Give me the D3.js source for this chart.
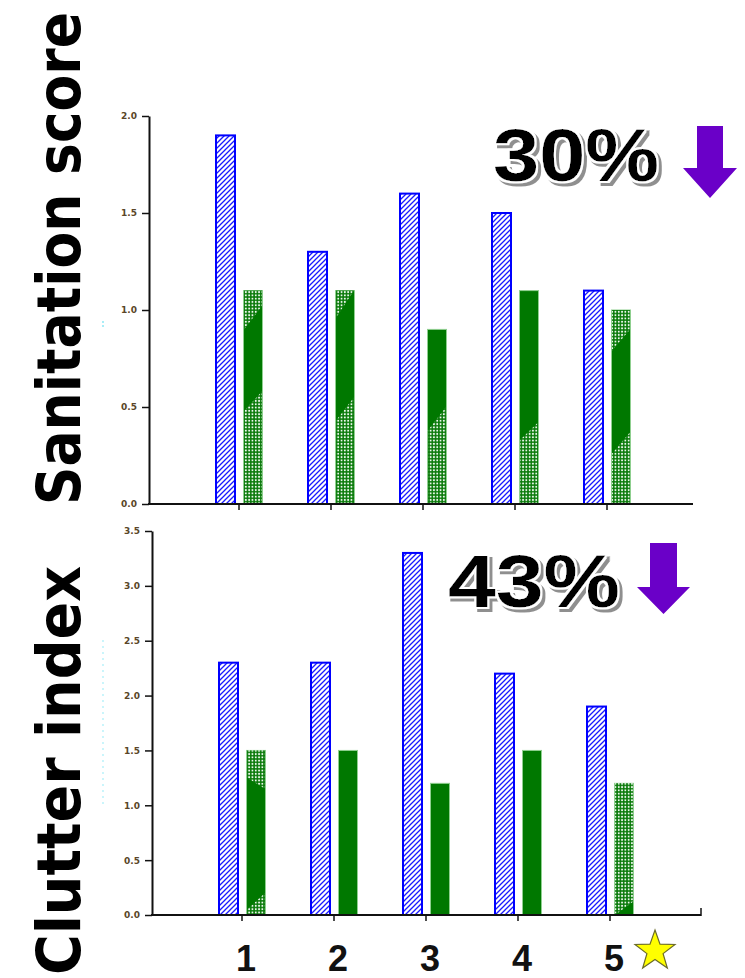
<!DOCTYPE html>
<html>
<head>
<meta charset="utf-8">
<script src="https://cdn.jsdelivr.net/npm/d3@7"></script>
<style>
  html, body { margin: 0; padding: 0; background: #fff; }
  svg { display: block; }
</style>
</head>
<body>
<svg id="chart" width="745" height="978"></svg>
<script>
// ---- data ----
const groups = ["1", "2", "3", "4", "5"];
const sanitationBefore = [1.9, 1.3, 1.6, 1.5, 1.1];
const sanitationAfter  = [1.1, 1.1, 0.9, 1.1, 1.0];
const clutterBefore    = [2.3, 2.3, 3.3, 2.2, 1.9];
const clutterAfter     = [1.5, 1.5, 1.2, 1.5, 1.2];
const sanitationTicks  = [0, 0.5, 1.0, 1.5, 2.0];
const clutterTicks     = [0, 0.5, 1.0, 1.5, 2.0, 2.5, 3.0, 3.5];
const panelTitles      = ["Sanitation score", "Clutter index"];
const reductionLabels  = ["30%", "43%"];

// texture regions on green bars (value units): [bar, lowLeft, lowRight, highLeft, highRight]
const textureTop = [
  [0, 0, 0, 0.48, 0.58], [0, 0.90, 1.02, 1.1, 1.1],
  [1, 0, 0, 0.43, 0.55], [1, 0.96, 1.1, 1.1, 1.1],
  [2, 0, 0, 0.38, 0.50],
  [3, 0, 0, 0.33, 0.42],
  [4, 0, 0, 0.26, 0.37], [4, 0.79, 0.90, 1.0, 1.0]
];
const textureBottom = [
  [0, 0, 0, 0.05, 0.20], [0, 1.25, 1.15, 1.5, 1.5],
  [4, 0.0, 0.12, 1.2, 1.2]
];

const svg = d3.select("#chart");
const defs = svg.append("defs");

// blue diagonal hatch
const hatch = defs.append("pattern").attr("id", "hatch")
  .attr("patternUnits", "userSpaceOnUse").attr("width", 5).attr("height", 5);
hatch.append("rect").attr("width", 5).attr("height", 5).attr("fill", "#fff");
hatch.append("path").attr("d", "M-1,1 L1,-1 M0,5 L5,0 M4,6 L6,4")
  .attr("stroke", "#1a1aff").attr("stroke-width", 1.3);

// green dots
const dots = defs.append("pattern").attr("id", "dots")
  .attr("patternUnits", "userSpaceOnUse").attr("width", 3.3).attr("height", 3.3);
dots.append("rect").attr("width", 3.3).attr("height", 3.3).attr("fill", "#0a7a0a");
dots.append("circle").attr("cx", 1.65).attr("cy", 1.65).attr("r", 1.0).attr("fill", "#eef8ee");

// embossed shadow for the percentage labels
const f = defs.append("filter").attr("id", "emboss")
  .attr("x", "-10%").attr("y", "-20%").attr("width", "130%").attr("height", "150%");
f.append("feMorphology").attr("in", "SourceAlpha").attr("operator", "dilate").attr("radius", 1.6).attr("result", "dil");
f.append("feOffset").attr("in", "dil").attr("dx", 3).attr("dy", 3).attr("result", "off");
f.append("feFlood").attr("flood-color", "#8f8f8f").attr("result", "grey");
f.append("feComposite").attr("in", "grey").attr("in2", "off").attr("operator", "in").attr("result", "shadow");
f.append("feFlood").attr("flood-color", "#ffffff").attr("result", "white");
f.append("feComposite").attr("in", "white").attr("in2", "dil").attr("operator", "in").attr("result", "halo");
const m = f.append("feMerge");
m.append("feMergeNode").attr("in", "shadow");
m.append("feMergeNode").attr("in", "halo");
m.append("feMergeNode").attr("in", "SourceGraphic");

const panels = [
  { before: sanitationBefore, after: sanitationAfter, ticks: sanitationTicks, domain: [0, 2],
    axisX: 149, yTop: 116, y0: 504, xStart: 147, axisEnd: 693, endTick: false,
    textures: textureTop, title: panelTitles[0], titleY0: 505, titleY1: 12, titleSize: 51,
    label: reductionLabels[0], labelX: 493, labelY: 181, labelW: 166,
    arrow: { x0: 683, x1: 737, s0: 697, s1: 723, top: 126, head: 168, tip: 198 } },
  { before: clutterBefore, after: clutterAfter, ticks: clutterTicks, domain: [0, 3.5],
    axisX: 152, yTop: 531, y0: 915, xStart: 150, axisEnd: 701, endTick: true,
    textures: textureBottom, title: panelTitles[1], titleY0: 975, titleY1: 566, titleSize: 51,
    label: reductionLabels[1], labelX: 448, labelY: 607, labelW: 172,
    arrow: { x0: 637, x1: 690, s0: 650, s1: 677, top: 543, head: 587, tip: 614 } }
];

const barW = 19;

panels.forEach((p, pi) => {
  const y = d3.scaleLinear().domain(p.domain).range([p.y0, p.yTop]);
  const x = d3.scaleLinear().domain([0, 6]).range([p.xStart, p.xStart + 552]);
  const g = svg.append("g");

  // bars: before (blue hatched)
  g.selectAll(".before").data(p.before).join("rect")
    .attr("x", (d, i) => x(i + 1) - 23)
    .attr("y", d => y(d))
    .attr("width", barW)
    .attr("height", d => y(0) - y(d))
    .attr("fill", "url(#hatch)")
    .attr("stroke", "#0000ff").attr("stroke-width", 2);

  // bars: after (green)
  g.selectAll(".after").data(p.after).join("rect")
    .attr("x", (d, i) => x(i + 1) + 4.5)
    .attr("y", d => y(d))
    .attr("width", barW)
    .attr("height", d => y(0) - y(d))
    .attr("fill", "#007800")
    .attr("stroke", "#8fcf8f").attr("stroke-width", 1);

  // dotted textures on green bars
  g.selectAll(".tex").data(p.textures).join("path")
    .attr("d", t => {
      const l = x(t[0] + 1) + 5, r = x(t[0] + 1) + 4 + barW;
      return `M${l},${y(t[1])} L${r},${y(t[2])} L${r},${y(t[4])} L${l},${y(t[3])} Z`;
    })
    .attr("fill", "url(#dots)");

  // y axis
  const yAxis = d3.axisLeft(y).tickValues(p.ticks).tickFormat(d3.format(".1f"))
    .tickSize(7).tickSizeOuter(0);
  const ya = g.append("g").attr("transform", `translate(${p.axisX},0)`).call(yAxis);
  ya.select(".domain").attr("stroke", "#111").attr("stroke-width", 2);
  ya.selectAll(".tick line").attr("stroke", "#111").attr("stroke-width", 1.5);
  ya.selectAll(".tick text")
    .attr("font-family", "DejaVu Sans, sans-serif").attr("font-weight", "bold")
    .attr("font-size", 9).attr("fill", "#5a4628").attr("x", -12);

  // x axis
  const xa = g.append("g");
  xa.append("line").attr("x1", p.axisX - 1).attr("x2", p.axisEnd)
    .attr("y1", p.y0).attr("y2", p.y0).attr("stroke", "#111").attr("stroke-width", 2);
  if (p.endTick) {
    xa.append("line").attr("x1", p.axisEnd).attr("x2", p.axisEnd)
      .attr("y1", p.y0 - 7).attr("y2", p.y0 + 1).attr("stroke", "#111").attr("stroke-width", 1.5);
  }
  xa.selectAll(".xt").data(groups).join("line")
    .attr("x1", (d, i) => x(i + 1)).attr("x2", (d, i) => x(i + 1))
    .attr("y1", p.y0).attr("y2", p.y0 + 6).attr("stroke", "#111").attr("stroke-width", 1.5);

  // panel title (rotated, glyphs stretched to the reference's height)
  svg.append("text")
    .attr("transform", `translate(80,${p.titleY0}) rotate(-90) scale(1,1.18)`)
    .attr("font-family", "DejaVu Sans, sans-serif").attr("font-weight", "bold")
    .attr("font-size", p.titleSize)
    .attr("textLength", p.titleY0 - p.titleY1).attr("lengthAdjust", "spacingAndGlyphs")
    .attr("fill", "#000").text(p.title);

  // reduction label with embossed shadow
  svg.append("text").attr("x", p.labelX).attr("y", p.labelY)
    .attr("font-family", "Liberation Sans, Arial, sans-serif").attr("font-weight", "bold")
    .attr("font-size", 74).attr("textLength", p.labelW).attr("lengthAdjust", "spacingAndGlyphs")
    .attr("fill", "#000").attr("filter", "url(#emboss)")
    .text(p.label);

  // purple arrow
  const a = p.arrow;
  svg.append("path")
    .attr("d", `M${a.s0},${a.top} L${a.s1},${a.top} L${a.s1},${a.head} L${a.x1},${a.head} L${(a.x0 + a.x1) / 2},${a.tip} L${a.x0},${a.head} L${a.s0},${a.head} Z`)
    .attr("fill", "#6a00c8");

  // bottom panel category labels + star
  if (pi === 1) {
    svg.selectAll(".cat").data(groups).join("text")
      .attr("x", (d, i) => x(i + 1) + 4).attr("y", 971)
      .attr("text-anchor", "middle")
      .attr("font-family", "Liberation Sans, Arial, sans-serif").attr("font-weight", "bold")
      .attr("font-size", 36).attr("fill", "#111")
      .text(d => d);

    const cx = x(5) + 45, cy = 951, R = 21, r = 8.5;
    const pts = d3.range(10).map(k => {
      const ang = -Math.PI / 2 + k * Math.PI / 5;
      const rad = k % 2 === 0 ? R : r;
      return [cx + rad * Math.cos(ang), cy + rad * Math.sin(ang)];
    });
    svg.append("path").attr("d", "M" + pts.join("L") + "Z")
      .attr("fill", "#ffff00").attr("stroke", "#6b6b2a").attr("stroke-width", 1.2);
  }
});

// faint cyan artefacts at the left of the plots
svg.append("line").attr("x1", 103).attr("x2", 103).attr("y1", 321).attr("y2", 328)
  .attr("stroke", "#8de8f5").attr("stroke-width", 1.5).attr("stroke-dasharray", "2,2");
svg.append("line").attr("x1", 103).attr("x2", 103).attr("y1", 640).attr("y2", 808)
  .attr("stroke", "#a8eef8").attr("stroke-width", 1.2).attr("stroke-dasharray", "2,4");
</script>
</body>
</html>
